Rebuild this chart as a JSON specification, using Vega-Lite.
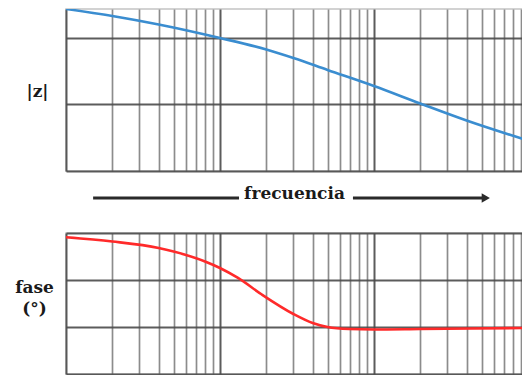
{
  "$schema": "https://vega.github.io/schema/vega-lite/v6.json",
  "padding": {"left": 13, "top": 8, "right": 0, "bottom": 0},
  "spacing": 0,
  "config": {
    "view": {"stroke": "#c4c4c4", "strokeWidth": 1.5},
    "font": "DejaVu Serif",
    "axisX": {
      "values": [1,2,3,4,5,6,7,8,9,10,20,30,40,50,60,70,80,90,100,200,300,400,500,600,700,800,900],
      "labels": false, "ticks": false, "domain": false, "title": null, "grid": true,
      "gridColor": {"condition": {"test": "datum.value == 1 || datum.value == 10 || datum.value == 100", "value": "#4a4a4a"}, "value": "#808080"},
      "gridWidth": {"condition": {"test": "datum.value == 1 || datum.value == 10 || datum.value == 100", "value": 2}, "value": 1.7},
      "gridOpacity": 0.9
    },
    "axisY": {
      "labels": false, "ticks": false, "domain": false, "grid": true,
      "gridColor": "#4a4a4a", "gridWidth": 2, "gridOpacity": 0.9,
      "titleAngle": 0, "titleAlign": "center", "titleBaseline": "middle",
      "titleFont": "DejaVu Serif", "titleFontWeight": "bold", "titleFontSize": 17, "titleColor": "#1a1a1a"
    }
  },
  "vconcat": [
    {
      "width": 457, "height": 162,
      "data": {"values": [
        {"f": 1, "z": 2.436}, {"f": 2, "z": 2.331}, {"f": 4, "z": 2.203}, {"f": 10, "z": 2.0},
        {"f": 20, "z": 1.827}, {"f": 30, "z": 1.699}, {"f": 50, "z": 1.519}, {"f": 100, "z": 1.278},
        {"f": 200, "z": 1.015}, {"f": 400, "z": 0.759}, {"f": 930, "z": 0.481}
      ]},
      "mark": {"type": "line", "color": "#3a8dd0", "strokeWidth": 2.6, "interpolate": "monotone", "clip": true},
      "encoding": {
        "x": {"field": "f", "type": "quantitative", "scale": {"type": "log", "domain": [1, 930], "nice": false}},
        "y": {"field": "z", "type": "quantitative", "scale": {"domain": [0, 2.436], "nice": false, "zero": false},
              "axis": {"values": [0, 1, 2], "title": "|z|", "titleX": -29, "titleY": 82}}
      }
    },
    {
      "width": 457, "height": 60,
      "view": {"stroke": null},
      "layer": [
        {
          "data": {"values": [{"a": 1.5, "b": 13.3, "lv": 34}, {"a": 73.1, "b": 512, "lv": 34}]},
          "mark": {"type": "rule", "color": "#2a2a2a", "strokeWidth": 3},
          "encoding": {
            "x": {"field": "a", "type": "quantitative", "scale": {"type": "log", "domain": [1, 930], "nice": false}, "axis": null},
            "x2": {"field": "b"},
            "y": {"field": "lv", "type": "quantitative", "scale": {"domain": [0, 60], "nice": false}, "axis": null}
          }
        },
        {
          "data": {"values": [{"a": 533, "lv": 34}]},
          "mark": {"type": "point", "shape": "triangle-right", "filled": true, "color": "#2a2a2a", "size": 90, "opacity": 1},
          "encoding": {
            "x": {"field": "a", "type": "quantitative", "scale": {"type": "log", "domain": [1, 930], "nice": false}, "axis": null},
            "y": {"field": "lv", "type": "quantitative", "scale": {"domain": [0, 60], "nice": false}, "axis": null}
          }
        },
        {
          "data": {"values": [{"a": 30.5, "lv": 38.5, "t": "frecuencia"}]},
          "mark": {"type": "text", "font": "DejaVu Serif", "fontWeight": "bold", "fontSize": 17, "color": "#1a1a1a", "align": "center", "baseline": "middle"},
          "encoding": {
            "x": {"field": "a", "type": "quantitative", "scale": {"type": "log", "domain": [1, 930], "nice": false}, "axis": null},
            "y": {"field": "lv", "type": "quantitative", "scale": {"domain": [0, 60], "nice": false}, "axis": null},
            "text": {"field": "t"}
          }
        }
      ]
    },
    {
      "width": 457, "height": 141,
      "data": {"values": [
        {"f": 1, "p": 2.909}, {"f": 2, "p": 2.819}, {"f": 4, "p": 2.681}, {"f": 5, "p": 2.606},
        {"f": 8, "p": 2.394}, {"f": 10, "p": 2.255}, {"f": 13.1, "p": 2.043}, {"f": 18.7, "p": 1.691},
        {"f": 30, "p": 1.277}, {"f": 40, "p": 1.085}, {"f": 50, "p": 1.0}, {"f": 68.8, "p": 0.957},
        {"f": 100, "p": 0.947}, {"f": 200, "p": 0.957}, {"f": 930, "p": 0.979}
      ]},
      "mark": {"type": "line", "color": "#ff2a2a", "strokeWidth": 2.6, "interpolate": "monotone", "clip": true},
      "encoding": {
        "x": {"field": "f", "type": "quantitative", "scale": {"type": "log", "domain": [1, 930], "nice": false}},
        "y": {"field": "p", "type": "quantitative", "scale": {"domain": [0, 3], "nice": false},
              "axis": {"values": [0, 1, 2, 3], "title": ["fase", "(°)"], "titleX": -32, "titleY": 54, "titleLineHeight": 21}}
      }
    }
  ]
}
